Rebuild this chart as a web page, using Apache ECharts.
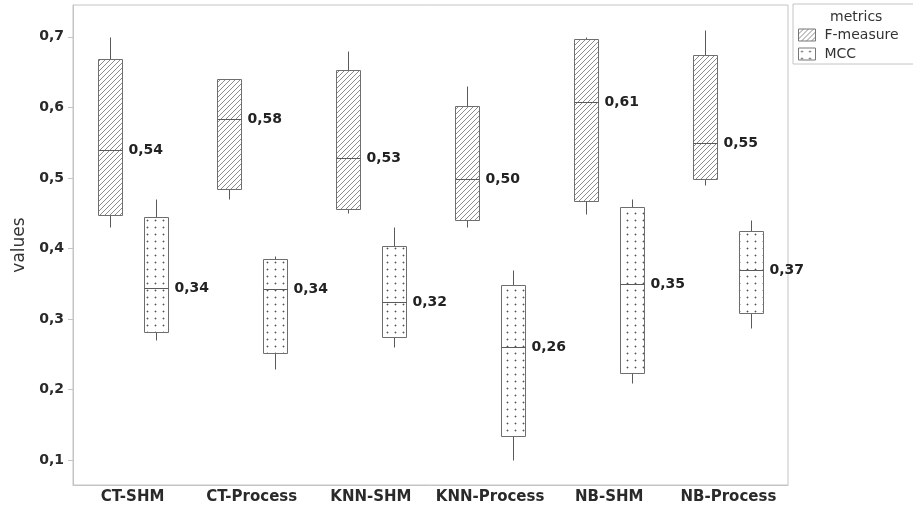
<!DOCTYPE html>
<html>
<head>
<meta charset="utf-8">
<script src="https://cdn.jsdelivr.net/npm/echarts@6/dist/echarts.min.js"></script>
<style>
html,body{margin:0;padding:0;background:#fff;}
#chart{width:913px;height:510px;}
</style>
</head>
<body>
<div id="chart"></div>
<script>
// ---- data ----
const categories = ['CT-SHM', 'CT-Process', 'KNN-SHM', 'KNN-Process', 'NB-SHM', 'NB-Process'];
// [min, Q1, median, Q3, max]
const fMeasureBoxes = [
  [0.43, 0.447, 0.540, 0.669, 0.70],
  [0.47, 0.484, 0.584, 0.640, 0.64],
  [0.45, 0.456, 0.528, 0.653, 0.68],
  [0.43, 0.441, 0.498, 0.602, 0.63],
  [0.449, 0.468, 0.608, 0.697, 0.70],
  [0.49, 0.498, 0.549, 0.674, 0.71]
];
const mccBoxes = [
  [0.27, 0.282, 0.344, 0.444, 0.47],
  [0.23, 0.252, 0.343, 0.385, 0.39],
  [0.26, 0.274, 0.324, 0.403, 0.43],
  [0.10, 0.135, 0.260, 0.348, 0.37],
  [0.21, 0.224, 0.350, 0.459, 0.47],
  [0.288, 0.308, 0.369, 0.4245, 0.44]
];
const yTicks = [0.1, 0.2, 0.3, 0.4, 0.5, 0.6, 0.7];
const seriesNames = ['F-measure', 'MCC'];

// ---- patterns ----
function makeHatch() {
  const c = document.createElement('canvas');
  c.width = 5; c.height = 5;
  const g = c.getContext('2d');
  g.fillStyle = '#fff'; g.fillRect(0, 0, 5, 5);
  g.fillStyle = '#8c8c8c';
  for (let i = 0; i < 5; i++) g.fillRect(i, 4 - i, 1, 1);
  return c;
}
function makeDots() {
  const c = document.createElement('canvas');
  c.width = 8; c.height = 7;
  const g = c.getContext('2d');
  g.fillStyle = '#fff'; g.fillRect(0, 0, 8, 7);
  g.fillStyle = '#bdbdbd';
  g.fillRect(2, 3, 1, 1); g.fillRect(4, 3, 1, 1); g.fillRect(3, 2, 1, 1); g.fillRect(3, 4, 1, 1);
  g.fillStyle = '#555';
  g.fillRect(3, 3, 1, 1);
  return c;
}
const hatchPattern = { image: makeHatch(), repeat: 'repeat' };
const dotPattern = { image: makeDots(), repeat: 'repeat' };

const FONT = '"DejaVu Sans", "Liberation Sans", sans-serif';

function fmt(v) { return v.toFixed(2).replace('.', ','); }

function makeRender(offsetFrac, pattern) {
  return function (params, api) {
    const i = api.value(0);
    const vmin = api.value(1), q1 = api.value(2), med = api.value(3), q3 = api.value(4), vmax = api.value(5);
    const band = api.size([1, 0])[0];
    const cx = Math.round(api.coord([i, med])[0] + offsetFrac * band) + 0.5;
    const w = Math.round(0.2 * band);
    const y = v => Math.round(api.coord([i, v])[1]) + 0.5;
    const x0 = cx - w / 2, x1 = cx + w / 2;
    const line = '#5a5a5a';
    return {
      type: 'group',
      children: [
        { type: 'line', shape: { x1: cx, y1: y(q3), x2: cx, y2: y(vmax) }, style: { stroke: line, lineWidth: 1 } },
        { type: 'line', shape: { x1: cx, y1: y(q1), x2: cx, y2: y(vmin) }, style: { stroke: line, lineWidth: 1 } },
        { type: 'rect', shape: { x: x0, y: y(q3), width: w, height: y(q1) - y(q3) },
          style: { fill: pattern, stroke: '#6e6e6e', lineWidth: 1 } },
        { type: 'line', shape: { x1: x0, y1: y(med), x2: x1, y2: y(med) }, style: { stroke: '#5a5a5a', lineWidth: 1 } },
        { type: 'text', style: { text: fmt(med), x: x1 + 6, y: y(med), align: 'left', verticalAlign: 'middle',
          fill: '#222', fontSize: 14, fontWeight: 'bold', fontFamily: FONT } }
      ]
    };
  };
}

const fData = fMeasureBoxes.map((b, i) => [i].concat(b));
const mData = mccBoxes.map((b, i) => [i].concat(b));

const chart = echarts.init(document.getElementById('chart'), null, { renderer: 'canvas' });
chart.setOption({
  animation: false,
  backgroundColor: '#fff',
  grid: { left: 73, right: 125, top: 5, bottom: 25, show: true, borderColor: '#c4c4c4', borderWidth: 1,
    containLabel: false, outerBoundsMode: 'none' },
  title: {
    text: 'metrics', left: 825, top: 5,
    textStyle: { fontFamily: FONT, fontSize: 14, fontWeight: 'normal', color: '#333' }
  },
  legend: {
    orient: 'vertical', left: 793, top: 4,
    padding: [24, 40, 3, 5],
    itemGap: 5, itemWidth: 17, itemHeight: 12,
    borderColor: '#c4c4c4', borderWidth: 1,
    textStyle: { fontFamily: FONT, fontSize: 14, color: '#333', padding: [0, 0, 0, 4] },
    data: [
      { name: seriesNames[0], icon: 'rect', itemStyle: { color: hatchPattern, borderColor: '#777', borderWidth: 1 } },
      { name: seriesNames[1], icon: 'rect', itemStyle: { color: dotPattern, borderColor: '#777', borderWidth: 1 } }
    ]
  },
  xAxis: {
    type: 'category',
    data: categories,
    axisLine: { lineStyle: { color: '#c4c4c4' } },
    axisTick: { alignWithLabel: true, length: 4, lineStyle: { color: '#c4c4c4' } },
    axisLabel: { interval: 0, hideOverlap: false, margin: 5, fontFamily: FONT, fontSize: 15, fontWeight: 'bold', color: '#2a2a2a' },
    splitLine: { show: false }
  },
  yAxis: {
    type: 'value',
    min: 0.065, max: 0.745,
    name: 'values', nameLocation: 'middle', nameGap: 45, nameRotate: 90,
    nameTextStyle: { fontFamily: FONT, fontSize: 17, color: '#333' },
    axisLine: { show: true, lineStyle: { color: '#c4c4c4' } },
    axisTick: { show: true, length: 5, lineStyle: { color: '#c4c4c4' }, customValues: yTicks },
    axisLabel: { margin: 9, fontFamily: FONT, fontSize: 14, fontWeight: 'bold', color: '#2a2a2a',
      customValues: yTicks, formatter: v => v.toFixed(1).replace('.', ',') },
    splitLine: { show: false }
  },
  series: [
    { name: seriesNames[0], type: 'custom', renderItem: makeRender(-0.193, hatchPattern),
      itemStyle: { color: hatchPattern }, encode: { x: 0, y: [1, 2, 3, 4, 5] }, data: fData },
    { name: seriesNames[1], type: 'custom', renderItem: makeRender(0.193, dotPattern),
      itemStyle: { color: dotPattern }, encode: { x: 0, y: [1, 2, 3, 4, 5] }, data: mData }
  ]
});
</script>
</body>
</html>
